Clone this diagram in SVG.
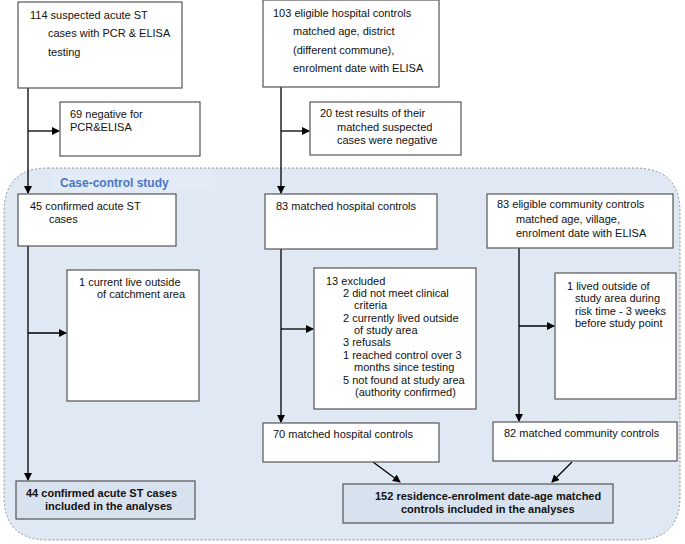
<svg xmlns="http://www.w3.org/2000/svg" width="685" height="544" viewBox="0 0 685 544">
<defs>
<style>
.box{fill:#fff;stroke:#555;stroke-width:1.2}
.res{fill:#d8e2ee;stroke:#555;stroke-width:1.2}
text{font-family:"Liberation Sans",Arial,sans-serif;font-size:11px;fill:#111}
.b{font-weight:bold}
.lbl{font-size:12px;font-weight:bold;fill:#4a76c8}
.ln{stroke:#000;stroke-width:1.3;fill:none}
</style>
<marker id="ah" markerWidth="8" markerHeight="8" refX="7" refY="4" orient="auto" markerUnits="userSpaceOnUse">
<path d="M0,0 L8,4 L0,8 Z" fill="#000"/>
</marker>
</defs>
<rect width="685" height="544" fill="#fff"/>
<g id="region">
<path d="M48,168 H635 Q680,168 680,212 V496 Q680,540 636,540 H48 Q4,540 4,496 V212 Q4,168 48,168 Z" fill="#dfe8f3" stroke="#8c939c" stroke-width="1" stroke-dasharray="2,2"/>
<rect x="52" y="171" width="163" height="20" fill="#e3ebf6"/>
<text class="lbl" x="60" y="187">Case-control study</text>
</g>
<g id="connectors">
<line class="ln" x1="28" y1="88" x2="28" y2="193" marker-end="url(#ah)"/>
<line class="ln" x1="28" y1="131" x2="59" y2="131" marker-end="url(#ah)"/>
<line class="ln" x1="281" y1="87" x2="281" y2="193" marker-end="url(#ah)"/>
<line class="ln" x1="281" y1="131" x2="309" y2="131" marker-end="url(#ah)"/>
<line class="ln" x1="28" y1="246" x2="28" y2="480" marker-end="url(#ah)"/>
<line class="ln" x1="28" y1="333" x2="66" y2="333" marker-end="url(#ah)"/>
<line class="ln" x1="281" y1="249" x2="281" y2="422" marker-end="url(#ah)"/>
<line class="ln" x1="281" y1="329" x2="313" y2="329" marker-end="url(#ah)"/>
<line class="ln" x1="519" y1="248" x2="519" y2="421" marker-end="url(#ah)"/>
<line class="ln" x1="519" y1="326" x2="554" y2="326" marker-end="url(#ah)"/>
<line class="ln" x1="373" y1="462" x2="400" y2="482" marker-end="url(#ah)"/>
<line class="ln" x1="572" y1="462" x2="552" y2="482" marker-end="url(#ah)"/>
</g>
<g id="n114">
<rect class="box" x="18" y="2" width="164" height="86"/>
<text x="30" y="19">114 suspected acute ST</text>
<text x="48" y="37">cases with PCR &amp; ELISA</text>
<text x="48" y="56">testing</text>
</g>
<g id="n103">
<rect class="box" x="263" y="0" width="176" height="87"/>
<text x="273" y="17">103 eligible hospital controls</text>
<text x="293" y="35">matched age, district</text>
<text x="293" y="54">(different commune),</text>
<text x="293" y="72">enrolment date with ELISA</text>
</g>
<g id="n69">
<rect class="box" x="60" y="102" width="140" height="54"/>
<text x="70" y="118">69 negative for</text>
<text x="70" y="131">PCR&amp;ELISA</text>
</g>
<g id="n20">
<rect class="box" x="310" y="102" width="151" height="53"/>
<text x="320" y="117">20 test results of their</text>
<text x="337" y="131">matched suspected</text>
<text x="337" y="144">cases were negative</text>
</g>
<g id="n45">
<rect class="box" x="18" y="194" width="158" height="52"/>
<text x="30" y="210">45 confirmed acute ST</text>
<text x="49" y="223">cases</text>
</g>
<g id="n83h">
<rect class="box" x="265" y="194" width="172" height="55"/>
<text x="276" y="210">83 matched hospital controls</text>
</g>
<g id="n83c">
<rect class="box" x="487" y="194" width="186" height="54"/>
<text x="497" y="208">83 eligible community controls</text>
<text x="516" y="223">matched age, village,</text>
<text x="516" y="237">enrolment date with ELISA</text>
</g>
<g id="n1cur">
<rect class="box" x="67" y="270" width="132" height="131"/>
<text x="79" y="286">1 current live outside</text>
<text x="97" y="298">of catchment area</text>
</g>
<g id="n13">
<rect class="box" x="314" y="268" width="162" height="141"/>
<text x="326" y="285">13 excluded</text>
<text x="343" y="297">2 did not meet clinical</text>
<text x="354" y="309">criteria</text>
<text x="343" y="322">2 currently lived outside</text>
<text x="354" y="334">of study area</text>
<text x="343" y="346">3 refusals</text>
<text x="343" y="359">1 reached control over 3</text>
<text x="354" y="371">months since testing</text>
<text x="343" y="384">5 not found at study area</text>
<text x="355" y="396">(authority confirmed)</text>
</g>
<g id="n1liv">
<rect class="box" x="555" y="273" width="121" height="126"/>
<text x="567" y="290">1 lived outside of</text>
<text x="575" y="302">study area during</text>
<text x="575" y="315">risk time - 3 weeks</text>
<text x="575" y="327">before study point</text>
</g>
<g id="n70">
<rect class="box" x="263" y="423" width="176" height="39"/>
<text x="273" y="438">70 matched hospital controls</text>
</g>
<g id="n82">
<rect class="box" x="493" y="422" width="184" height="39"/>
<text x="504" y="437">82 matched community controls</text>
</g>
<g id="n44">
<rect class="res" x="16" y="481" width="179" height="38"/>
<text class="b" x="26" y="497">44 confirmed acute ST cases</text>
<text class="b" x="45" y="510">included in the analyses</text>
</g>
<g id="n152">
<rect class="res" x="343" y="484" width="270" height="39"/>
<text class="b" x="375" y="500">152 residence-enrolment date-age matched</text>
<text class="b" x="401" y="513">controls included in the analyses</text>
</g>
</svg>
